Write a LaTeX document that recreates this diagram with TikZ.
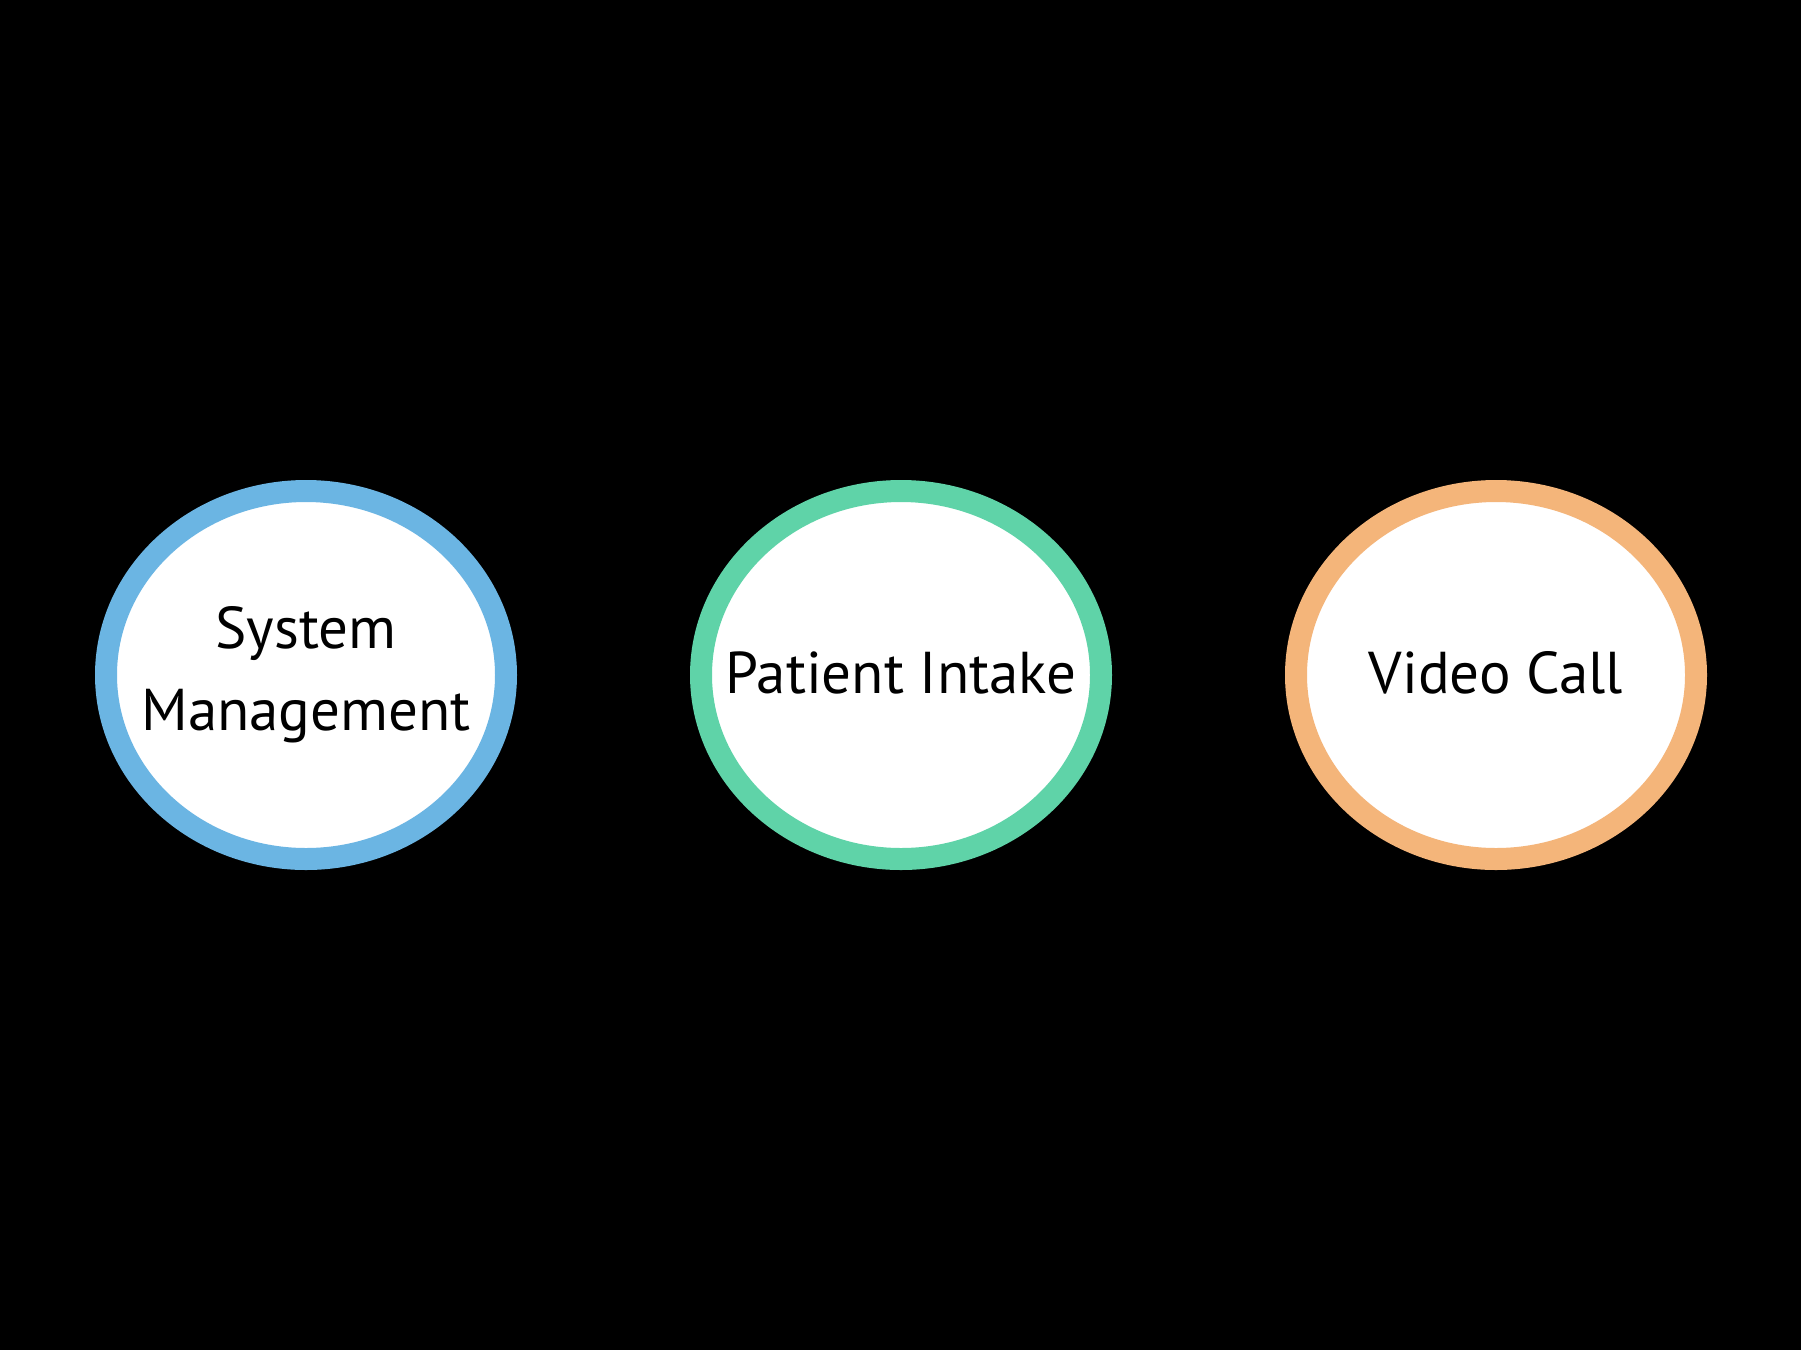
\documentclass[tikz,border=0pt]{standalone}
\usepackage{fontspec}
\setmainfont{PT Sans}
\usetikzlibrary{shapes.geometric}
\definecolor{cblue}{HTML}{6BB5E3}
\definecolor{cgreen}{HTML}{5FD3A8}
\definecolor{corange}{HTML}{F4B57A}
\tikzset{
  bubble/.style={ellipse, draw=#1, fill=white, line width=22pt,
    minimum width=400pt, minimum height=368pt, inner sep=0pt},
  btext/.style={align=center, font=\fontsize{59}{82}\selectfont, text=black, inner sep=0pt}
}
\begin{document}
\begin{tikzpicture}[x=1pt,y=-1pt]
\fill[black] (0,0) rectangle (1801,1350);
\useasboundingbox (0,0) rectangle (1801,1350);
\node[bubble=cblue] (sm) at (306,675) {};
\node[bubble=cgreen] (pi) at (901,675) {};
\node[bubble=corange] (vc) at (1496,675) {};
\node[btext] (smt) at (306,675) {System\\Management};
\node[btext] (pit) at (901,673) {Patient Intake};
\node[btext] (vct) at (1496,673) {Video Call};
\end{tikzpicture}
\end{document}
